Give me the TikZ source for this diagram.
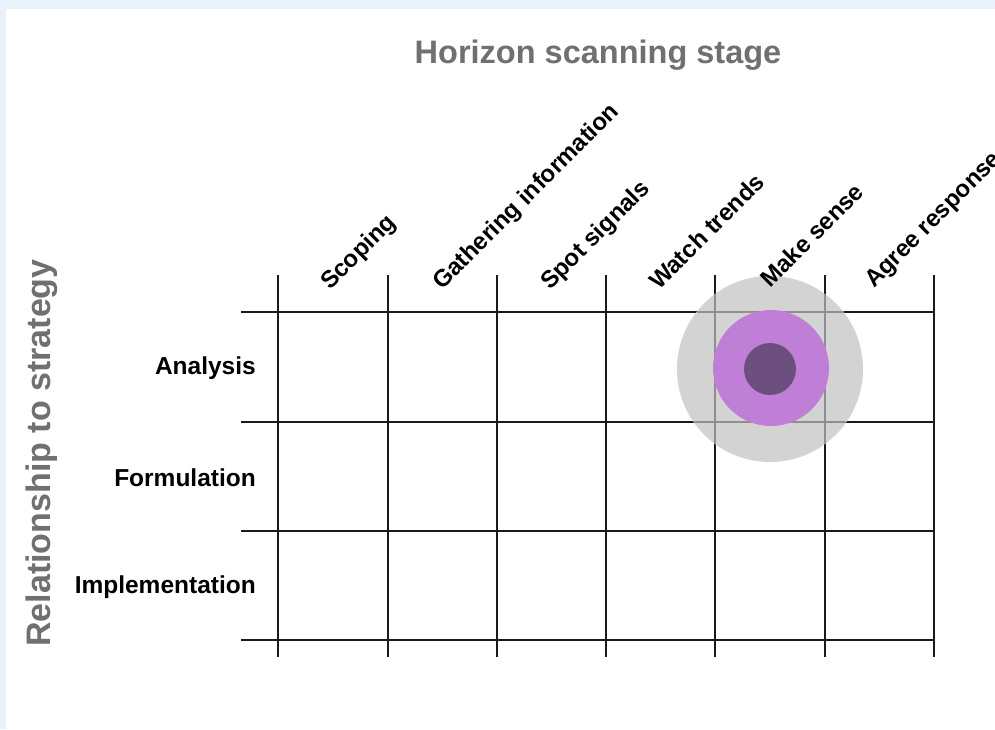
\documentclass[tikz,border=0pt]{standalone}
\usepackage{fontspec}
\setmainfont{Liberation Sans}
\definecolor{bandblue}{HTML}{E9F1FA}
\definecolor{titlegray}{HTML}{707070}
\definecolor{gridblack}{HTML}{1A1A1A}
\definecolor{ringgray}{HTML}{D3D3D3}
\definecolor{linegray}{HTML}{8E8E8E}
\definecolor{ringpurple}{HTML}{C07FD6}
\definecolor{coredark}{HTML}{6C4F7E}
\begin{document}
\begin{tikzpicture}[x=1pt,y=1pt,
  gridline/.style={draw=gridblack,line width=2.4pt},
  faintline/.style={draw=linegray,line width=2.4pt},
  rowlabel/.style={anchor=east,inner sep=0pt,font=\bfseries\fontsize{24.5}{28}\selectfont},
  collabel/.style={anchor=base west,inner sep=0pt,rotate=45,font=\bfseries\fontsize{24}{28}\selectfont},
  axistitle/.style={inner sep=0pt,text=titlegray,font=\bfseries\fontsize{32.5}{38}\selectfont}]
\clip (0,0) rectangle (995,-729);
\fill[bandblue] (0,0) rectangle (995,-729);
\fill[white] (6,-9) rectangle (995,-729);
% grid
\foreach \x in {278,388,497,606,715,825,934}
  \draw[gridline] (\x,-275) -- (\x,-657);
\foreach \y in {312,422,531,640}
  \draw[gridline] (241,-\y) -- (934,-\y);
% target
\fill[ringgray] (770,-369) circle (93);
\draw[faintline] (715,-294) -- (715,-444);
\draw[faintline] (825,-294) -- (825,-444);
\draw[faintline] (696.5,-312) -- (843.5,-312);
\draw[faintline] (693.6,-422) -- (846.4,-422);
\fill[ringpurple] (771,-368) circle (58);
\fill[coredark] (770,-369) circle (26);
% titles
\node[axistitle] (title) at (598,-55) {Horizon scanning stage};
\node[axistitle,rotate=90,font=\bfseries\fontsize{34}{40}\selectfont] (side) at (42,-453) {Relationship to strategy};
% row labels
\node[rowlabel] (r1) at (256,-368) {Analysis};
\node[rowlabel] (r2) at (256,-478) {Formulation};
\node[rowlabel] (r3) at (256,-587) {Implementation};
% column labels
\node[collabel] (c1) at (330,-291) {Scoping};
\node[collabel] (c2) at (442,-291) {Gathering information};
\node[collabel] (c3) at (550,-291) {Spot signals};
\node[collabel] (c4) at (659,-291) {Watch trends};
\node[collabel] (c5) at (770,-289) {Make sense};
\node[collabel] (c6) at (874,-289) {Agree response};
\end{tikzpicture}
\end{document}
